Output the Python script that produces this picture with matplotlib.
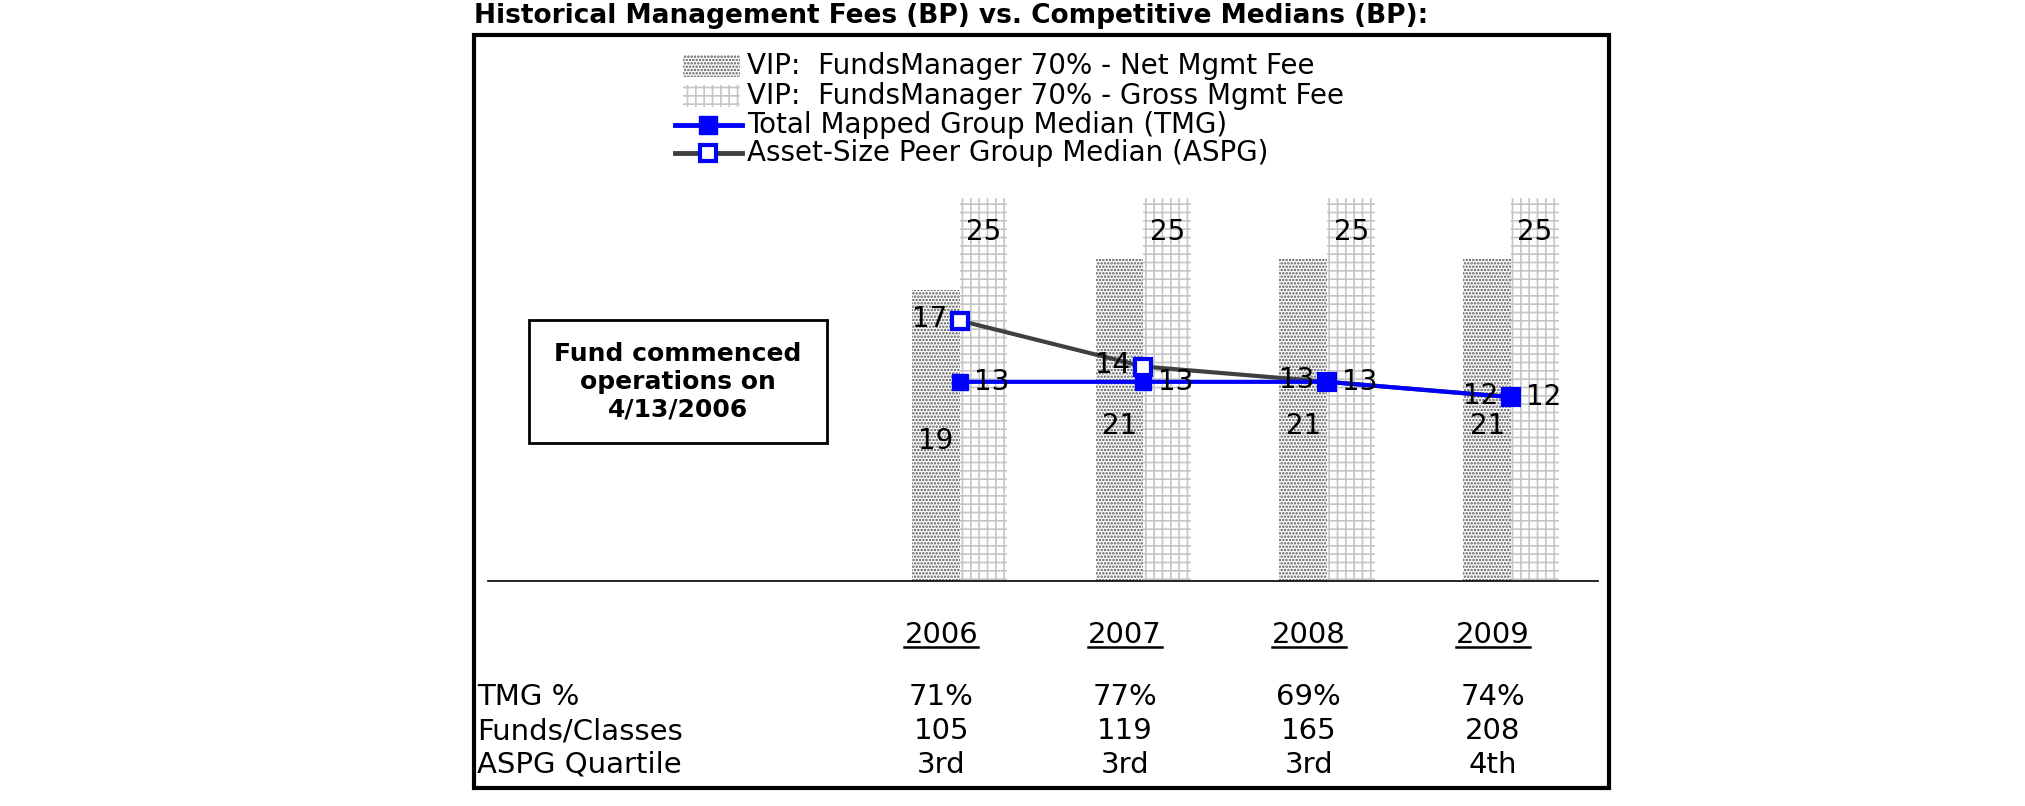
import matplotlib
matplotlib.use("Agg")
import matplotlib.pyplot as plt
from matplotlib.patches import Rectangle
from matplotlib.lines import Line2D
from matplotlib.transforms import blended_transform_factory
import numpy as np

# data
years = ['2006', '2007', '2008', '2009']
net_fee = [19, 21, 21, 21]
gross_fee = [25, 25, 25, 25]
tmg_median = [13, 13, 13, 12]
aspg_median = [17, 14, 13, 12]
tmg_pct = ['71%', '77%', '69%', '74%']
funds_classes = ['105', '119', '165', '208']
aspg_quartile = ['3rd', '3rd', '3rd', '4th']
row_names = ['TMG %', 'Funds/Classes', 'ASPG Quartile']
legend_labels = ['VIP:  FundsManager 70% - Net Mgmt Fee',
                 'VIP:  FundsManager 70% - Gross Mgmt Fee',
                 'Total Mapped Group Median (TMG)',
                 'Asset-Size Peer Group Median (ASPG)']

plt.rcParams['font.family'] = 'DejaVu Sans'
plt.rcParams['hatch.linewidth'] = 1.2

W, H = 2025, 806
fig = plt.figure(figsize=(W / 100, H / 100), dpi=100)

def fy(py):
    # pixel row (from top) -> figure fraction
    return 1 - py / H

net_style = dict(facecolor='white', edgecolor='#555555', hatch='.....', lw=0)
gross_style = dict(facecolor='white', edgecolor='#c6c6c6', hatch='++', lw=0)

# outer frame + title
fig.patches.append(Rectangle((474 / W, fy(788)), (1609 - 474) / W, (788 - 35) / H,
                             transform=fig.transFigure, fill=False, lw=3, ec='black'))
fig.text(474 / W, fy(16), 'Historical Management Fees (BP) vs. Competitive Medians (BP):',
         fontsize=19, fontweight='bold', va='center', ha='left')

ax = fig.add_axes([488 / W, fy(581), (1598 - 488) / W, (581 - 198) / H])
ax.set_xlim(-2.566, 3.473)
ax.set_ylim(0, 25)
for s in ['top', 'left', 'right']:
    ax.spines[s].set_visible(False)
ax.spines['bottom'].set_linewidth(1.2)
ax.set_xticks([])
ax.set_yticks([])
ax.patch.set_visible(False)

x = np.arange(len(years))
w = 0.26
ax.bar(x - w, net_fee, w, align='edge', clip_on=False, **net_style)
ax.bar(x, gross_fee, w, align='edge', clip_on=False, **gross_style)

for i in range(len(years)):
    ax.text(x[i] - w / 2, net_fee[i] / 2 - 0.35, str(net_fee[i]), ha='center', va='center', fontsize=20)
    ax.text(x[i] + w / 2, gross_fee[i] - 2.2, str(gross_fee[i]), ha='center', va='center', fontsize=20)

ax.plot(x, aspg_median, color='#404040', lw=3, marker='s', ms=12,
        mfc='white', mec='#0000ff', mew=3, zorder=4, clip_on=False)
ax.plot(x, tmg_median, color='#0000ff', lw=3, marker='s', ms=12,
        mfc='#0000ff', mec='#0000ff', zorder=5, clip_on=False)
for i in range(len(years)):
    ax.text(x[i] + 0.08, tmg_median[i], str(tmg_median[i]), ha='left', va='center', fontsize=20, zorder=6)
    ax.text(x[i] - 0.07, aspg_median[i] + 0.1, str(aspg_median[i]), ha='right', va='center', fontsize=20, zorder=6)

# legend, laid out by hand
leg_y = [66, 96, 125, 153]
fig.patches.append(Rectangle((683 / W, fy(leg_y[0] + 11)), 57 / W, 22 / H,
                             transform=fig.transFigure, **net_style))
fig.patches.append(Rectangle((683 / W, fy(leg_y[1] + 11)), 57 / W, 22 / H,
                             transform=fig.transFigure, **gross_style))
fig.lines.append(Line2D([675 / W, 742 / W], [fy(leg_y[2])] * 2, transform=fig.transFigure,
                        color='#0000ff', lw=3.5))
fig.lines.append(Line2D([708 / W], [fy(leg_y[2])], transform=fig.transFigure, marker='s',
                        ms=13, mfc='#0000ff', mec='#0000ff'))
fig.lines.append(Line2D([675 / W, 742 / W], [fy(leg_y[3])] * 2, transform=fig.transFigure,
                        color='#404040', lw=3.5))
fig.lines.append(Line2D([708 / W], [fy(leg_y[3])], transform=fig.transFigure, marker='s',
                        ms=11, mfc='white', mec='#0000ff', mew=3))
for k in range(len(legend_labels)):
    fig.text(747 / W, fy(leg_y[k]), legend_labels[k], ha='left', va='center', fontsize=20)

# note box
fig.patches.append(Rectangle((529 / W, fy(443)), (827 - 529) / W, (443 - 320) / H,
                             transform=fig.transFigure, fc='white', ec='black', lw=2))
fig.text(678 / W, fy(382), 'Fund commenced\noperations on\n4/13/2006', ha='center', va='center',
         fontsize=18, fontweight='bold', linespacing=1.2)

# table below the chart
tr = blended_transform_factory(ax.transData, fig.transFigure)
year_txt = []
for i in range(len(years)):
    t = ax.text(x[i] - 0.1, fy(635), years[i], transform=tr, ha='center', va='center', fontsize=21)
    year_txt.append(t)
rows = [tmg_pct, funds_classes, aspg_quartile]
row_y = [697, 731, 765]
for r in range(len(rows)):
    fig.text(477 / W, fy(row_y[r]), row_names[r], ha='left', va='center', fontsize=21)
    for i in range(len(years)):
        ax.text(x[i] - 0.1, fy(row_y[r]), rows[r][i], transform=tr, ha='center', va='center', fontsize=21)

# underline the years
fig.canvas.draw()
rend = fig.canvas.get_renderer()
for t in year_txt:
    bb = t.get_window_extent(rend)
    fig.lines.append(Line2D([bb.x0 / W, bb.x1 / W], [(bb.y0 + 2) / H] * 2,
                            transform=fig.transFigure, color='black', lw=1.8))

fig.savefig('out.png', dpi=100)
